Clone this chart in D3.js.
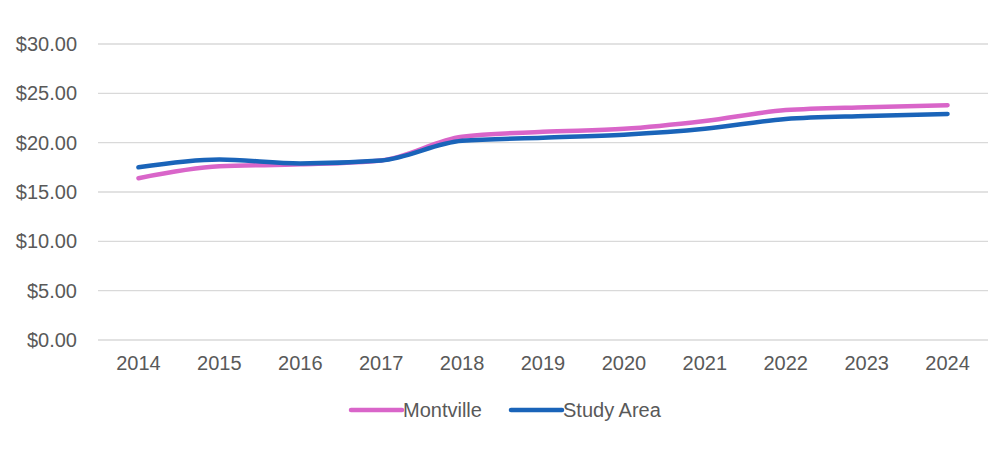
<!DOCTYPE html>
<html><head><meta charset="utf-8">
<script src="https://cdn.jsdelivr.net/npm/d3@7"></script>
<style>body{margin:0;background:#fff;}svg{display:block;font-family:"Liberation Sans",Arial,sans-serif;}</style>
</head><body>
<svg id="c" width="993" height="450"></svg>
<script>
const years = ["2014","2015","2016","2017","2018","2019","2020","2021","2022","2023","2024"];
const montville = [16.4,17.6,17.8,18.2,20.6,21.1,21.4,22.2,23.3,23.6,23.8];
const studyArea = [17.5,18.3,17.9,18.2,20.2,20.5,20.8,21.4,22.4,22.7,22.9];
const yTicks = [0,5,10,15,20,25,30];
const seriesNames = ["Montville","Study Area"];
const colors = ["#d965c9","#1a64b9"];

const svg = d3.select("#c");
const x = d3.scaleBand().domain(years).range([98,988]);
const y = d3.scaleLinear().domain([0,30]).range([340,44]);

svg.append("g").selectAll("line").data(yTicks).join("line")
  .attr("x1",98).attr("x2",988)
  .attr("y1",d=>y(d)).attr("y2",d=>y(d))
  .attr("stroke","#d9d9d9").attr("stroke-width",1.3);

const fam = "Liberation Sans, Arial, sans-serif";
const yAxis = svg.append("g").attr("transform","translate(77,0)")
  .call(d3.axisLeft(y).tickValues(yTicks).tickSize(0).tickPadding(0).tickFormat(d=>"$"+d3.format(".2f")(d)));
yAxis.select(".domain").remove();
yAxis.selectAll("text").attr("font-size",20).attr("fill","#595959").attr("font-family",fam);

const xAxis = svg.append("g").attr("transform","translate(0,340)")
  .call(d3.axisBottom(x).tickSize(0).tickPadding(16));
xAxis.select(".domain").remove();
xAxis.selectAll("text").attr("font-size",20).attr("fill","#595959").attr("font-family",fam);

const line = d3.line().x((d,i)=>x(years[i])+x.bandwidth()/2).y(d=>y(d)).curve(d3.curveMonotoneX);
[montville,studyArea].forEach((s,i)=>{
  svg.append("path").datum(s).attr("d",line).attr("fill","none")
    .attr("stroke",colors[i]).attr("stroke-width",4.5).attr("stroke-linecap","round").attr("stroke-linejoin","round");
});

const legX = [351,511];
seriesNames.forEach((n,i)=>{
  const g = svg.append("g").attr("transform",`translate(${legX[i]},410)`);
  g.append("line").attr("x1",0).attr("x2",51).attr("y1",0).attr("y2",0)
    .attr("stroke",colors[i]).attr("stroke-width",4.5).attr("stroke-linecap","round");
  g.append("text").attr("x",52).attr("y",7).attr("font-size",20).attr("fill","#595959").attr("font-family",fam).text(n);
});
</script>
</body></html>
